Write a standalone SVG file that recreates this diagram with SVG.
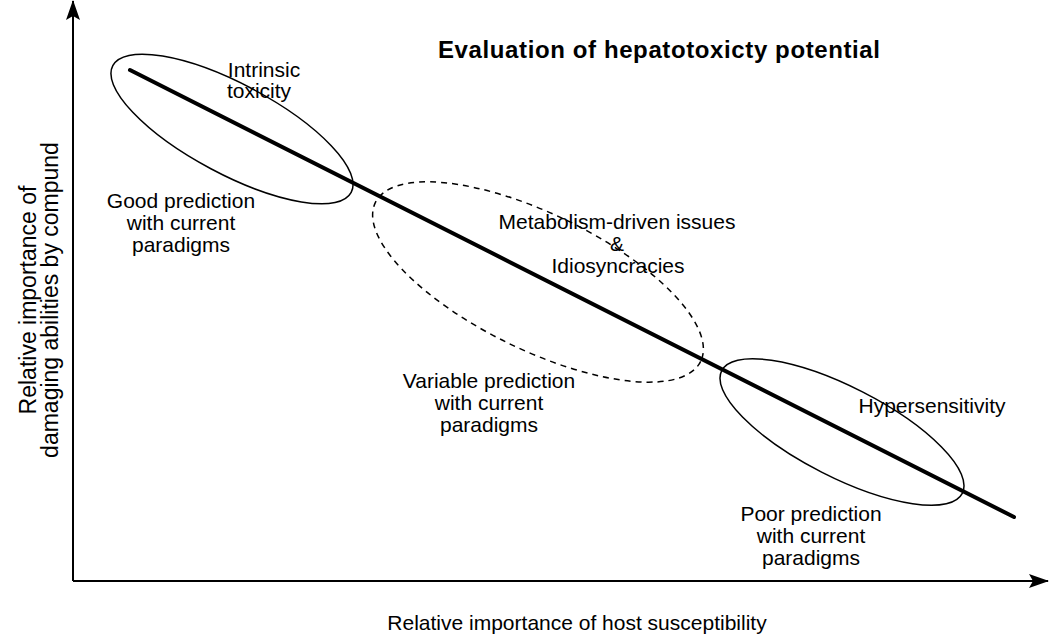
<svg xmlns="http://www.w3.org/2000/svg" width="1050" height="635" viewBox="0 0 1050 635">
<style>
text{font-family:"Liberation Sans",Arial,sans-serif;font-size:21px;fill:#000}
.c{text-anchor:middle}
.t{font-weight:bold;font-size:24px}
.yl{font-size:23px}
.ax{stroke:#000;stroke-width:2;fill:none}
.el{stroke:#000;stroke-width:1.5;fill:none}
.dash{stroke-dasharray:6 5}
</style>
<defs>
<marker id="ah" viewBox="0 0 20 14" refX="19" refY="7" markerUnits="userSpaceOnUse" markerWidth="20" markerHeight="14" orient="auto">
<path d="M0,0 L20,7 L0,14 L4,7 Z" fill="#000"/>
</marker>
</defs>
<g id="axes">
<line class="ax" x1="73" y1="581" x2="73" y2="1" marker-end="url(#ah)"/>
<line class="ax" x1="73" y1="581" x2="1048" y2="581" marker-end="url(#ah)"/>
</g>
<g id="connectors">
<line x1="130" y1="70" x2="1014" y2="517" stroke="#000" stroke-width="4" stroke-linecap="round"/>
</g>
<text class="c t" x="659" y="58" textLength="442" lengthAdjust="spacing">Evaluation of hepatotoxicty potential</text>
<g id="intrinsic">
<ellipse class="el" cx="232" cy="129" rx="135" ry="45" transform="rotate(28 232 129)"/>
<text class="c" x="264" y="77">Intrinsic</text>
<text class="c" x="259" y="98">toxicity</text>
<text class="c" x="181" y="208">Good prediction</text>
<text class="c" x="181" y="230">with current</text>
<text class="c" x="181" y="252">paradigms</text>
</g>
<g id="metabolism">
<ellipse class="el dash" cx="538" cy="282" rx="181" ry="68" transform="rotate(26 538 282)"/>
<text class="c" x="617" y="229">Metabolism-driven issues</text>
<text class="c" x="617" y="251">&amp;</text>
<text class="c" x="618" y="273">Idiosyncracies</text>
<text class="c" x="489" y="388">Variable prediction</text>
<text class="c" x="489" y="410">with current</text>
<text class="c" x="489" y="432">paradigms</text>
</g>
<g id="hypersensitivity">
<ellipse class="el" cx="842" cy="432" rx="135" ry="45" transform="rotate(27 842 432)"/>
<text class="c" x="932" y="413">Hypersensitivity</text>
<text class="c" x="811" y="521">Poor prediction</text>
<text class="c" x="811" y="543">with current</text>
<text class="c" x="811" y="565">paradigms</text>
</g>
<g id="xlabel"><text class="c" x="577" y="630">Relative importance of host susceptibility</text></g>
<g id="ylabel"><text class="c yl" transform="translate(36 300) rotate(-90)">Relative importance of<tspan x="0" dy="22">damaging abilities by compund</tspan></text></g>
</svg>
